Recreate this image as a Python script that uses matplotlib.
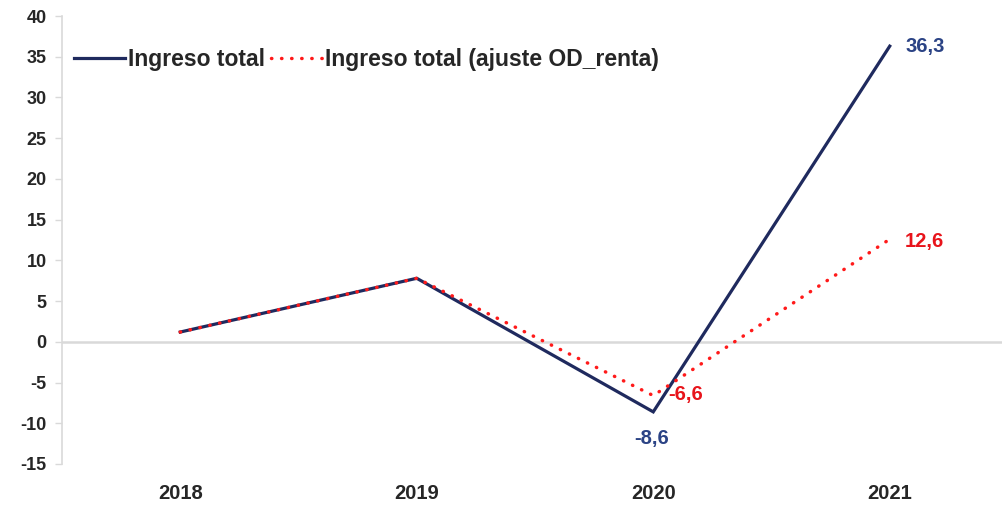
import numpy as np
import matplotlib
matplotlib.use("Agg")
import matplotlib.pyplot as plt

plt.rcParams['font.family'] = ['Liberation Sans', 'DejaVu Sans']

years = ["2018", "2019", "2020", "2021"]
ingreso_total = [1.2, 7.8, -8.6, 36.3]
ingreso_ajuste = [1.2, 7.8, -6.6, 12.6]
y_ticks = [-15, -10, -5, 0, 5, 10, 15, 20, 25, 30, 35, 40]

navy = "#1F2A5E"
navy_txt = "#2B4385"
red = "#FF1A1A"
red_txt = "#E8141B"

fig = plt.figure(figsize=(10.02, 5.07), dpi=100)
ax = fig.add_axes([62 / 1002, 43 / 507, 946 / 1002, 448 / 507])

x = np.arange(len(years))
ax.plot(x, ingreso_total, color=navy, lw=2.3, label="Ingreso total",
        solid_joinstyle="miter", zorder=3)
ax.plot(x, ingreso_ajuste, color=red, lw=2.5, linestyle=(0, (0.1, 2.8)),
        dash_capstyle="round", label="Ingreso total (ajuste OD_renta)", zorder=4)

ax.set_xlim(-0.5, 3.5)
ax.set_ylim(-15, 40)
ax.set_yticks(y_ticks)
ax.set_yticklabels([str(v) for v in y_ticks], fontsize=13, fontweight="bold", color="#262626")
ax.set_xticks([])

for s in ["top", "right", "bottom"]:
    ax.spines[s].set_visible(False)
ax.spines["left"].set_color("#D9D9D9")
ax.spines["left"].set_linewidth(1.2)
ax.tick_params(axis="y", direction="out", length=5, width=1, color="#D9D9D9", pad=6)
ax.axhline(0, color="#D9D9D9", lw=1.8, zorder=1)

# year labels sit below the plot area, like a low-positioned category axis
for xi, yr in zip(x, years):
    ax.annotate(yr, (xi, -15), xytext=(0, -21), textcoords="offset points",
                ha="center", va="center", fontsize=14.5, fontweight="bold", color="#262626")

# value labels
ax.annotate(f"{ingreso_total[3]:.1f}".replace(".", ","), (x[3], ingreso_total[3]),
            xytext=(11, 0), textcoords="offset points", ha="left", va="center",
            fontsize=14.5, fontweight="bold", color=navy_txt)
ax.annotate(f"{ingreso_ajuste[3]:.1f}".replace(".", ","), (x[3], ingreso_ajuste[3]),
            xytext=(11, -2), textcoords="offset points", ha="left", va="center",
            fontsize=14.5, fontweight="bold", color=red_txt)
ax.annotate(f"{ingreso_ajuste[2]:.1f}".replace(".", ","), (x[2], ingreso_ajuste[2]),
            xytext=(11, 1), textcoords="offset points", ha="left", va="center",
            fontsize=14.5, fontweight="bold", color=red_txt)
ax.annotate(f"{ingreso_total[2]:.1f}".replace(".", ","), (x[2], ingreso_total[2]),
            xytext=(-1, -19), textcoords="offset points", ha="center", va="center",
            fontsize=14.5, fontweight="bold", color=navy_txt)

leg = ax.legend(loc="center left", bbox_to_anchor=(0.001, 0.902), ncol=2,
                frameon=False, borderpad=0, handlelength=2.2, handletextpad=0.12,
                columnspacing=0.3, prop={"size": 16.5, "weight": "bold"})
for t in leg.get_texts():
    t.set_color("#262626")

fig.savefig("out.png", dpi=100)
